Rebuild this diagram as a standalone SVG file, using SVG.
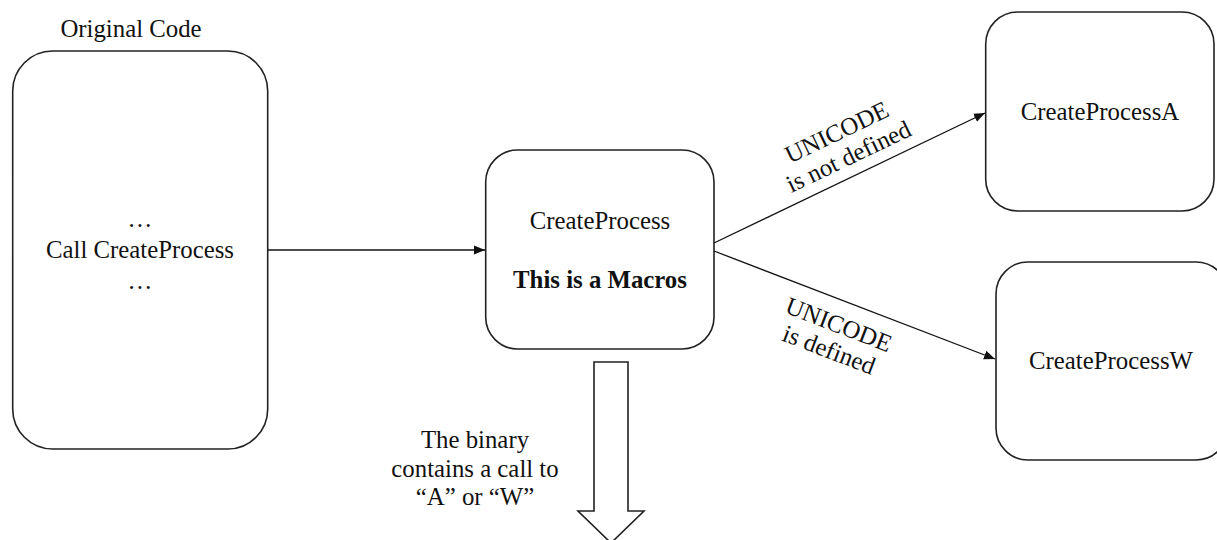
<svg xmlns="http://www.w3.org/2000/svg" width="1217" height="540" viewBox="0 0 1217 540">
<style>
.box{fill:#fff;stroke:#222;stroke-width:1.6}
.t{font-family:"Liberation Serif","Times New Roman",serif;font-size:24.8px;fill:#111;text-anchor:middle}
.b{font-weight:bold}
.ln{fill:none;stroke:#111;stroke-width:1.3}
</style>
<defs>
<marker id="ah" markerWidth="12" markerHeight="10" refX="11" refY="5" orient="auto" markerUnits="userSpaceOnUse">
<path d="M0,0.5 L11,5 L0,9.5 Z" fill="#111"/>
</marker>
</defs>
<rect width="1217" height="540" fill="#fff"/>
<g id="original">
<text class="t" x="131" y="37">Original Code</text>
<rect class="box" x="12.7" y="51" width="255" height="398" rx="40"/>
<text class="t" x="140" y="227">…</text>
<text class="t" x="140" y="258">Call CreateProcess</text>
<text class="t" x="140" y="289">…</text>
</g>
<g id="macro">
<rect class="box" x="485.7" y="150" width="228.3" height="199" rx="32"/>
<text class="t" x="600" y="229">CreateProcess</text>
<text class="t b" x="600" y="288">This is a Macros</text>
</g>
<g id="nodeA">
<rect class="box" x="985.7" y="12" width="228.3" height="199" rx="32"/>
<text class="t" x="1100" y="120">CreateProcessA</text>
</g>
<g id="nodeW">
<rect class="box" x="996" y="262" width="232" height="198" rx="32"/>
<text class="t" x="1111" y="369">CreateProcessW</text>
</g>
<g id="connectors">
<line class="ln" x1="268" y1="250" x2="485" y2="250" marker-end="url(#ah)"/>
<line class="ln" x1="714" y1="243" x2="985" y2="113" marker-end="url(#ah)"/>
<line class="ln" x1="714" y1="251" x2="995" y2="359" marker-end="url(#ah)"/>
<g transform="translate(843,145) rotate(-25.6)">
<text class="t" x="0" y="-6">UNICODE</text>
<text class="t" x="0" y="21">is not defined</text>
</g>
<g transform="translate(834,337) rotate(21)">
<text class="t" x="0" y="-5">UNICODE</text>
<text class="t" x="0" y="22">is defined</text>
</g>
<path d="M594,362 L628,362 L628,511 L644,511 L611,543 L578,511 L594,511 Z" fill="#fff" stroke="#222" stroke-width="1.6"/>
<text class="t" x="475" y="448">The binary</text>
<text class="t" x="475" y="477">contains a call to</text>
<text class="t" x="475" y="505">“A” or “W”</text>
</g>
</svg>
